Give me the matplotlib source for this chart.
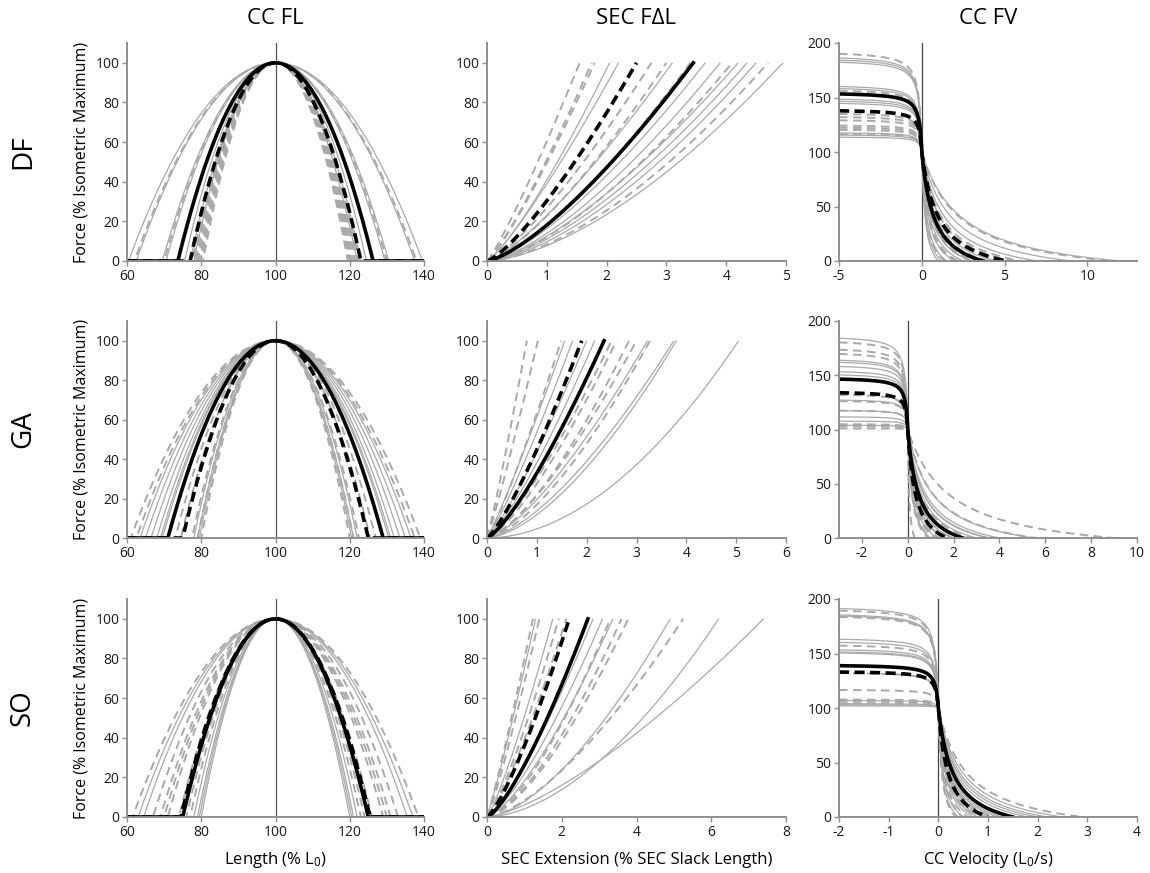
import numpy as np
import matplotlib
matplotlib.use("Agg")
import matplotlib.pyplot as plt

plt.rcParams['font.family'] = ['Open Sans', 'DejaVu Sans']
plt.rcParams['mathtext.fontset'] = 'custom'
plt.rcParams['mathtext.rm'] = 'Open Sans'
plt.rcParams['mathtext.default'] = 'regular'
plt.rcParams['axes.unicode_minus'] = False

muscles = ["DF", "GA", "SO"]
col_titles = ["CC FL", "SEC F\u0394L", "CC FV"]

# ---- CC force-length: half-width (% L0) where force reaches zero ----
fl_solid = {
    "DF": [39.6, 37.5, 30.5, 29.5, 24.5, 23.0, 22.0],
    "GA": [36.5, 35.0, 33.5, 32.0, 31.0, 30.5, 22.0, 21.0, 20.5],
    "SO": [37.0, 35.5, 22.0, 21.0, 20.5, 20.0],
}
fl_dashed = {
    "DF": [38.0, 30.0, 22.5, 22.0, 21.5, 21.0, 20.5, 20.3, 20.0, 19.5],
    "GA": [39.0, 37.5, 27.0, 25.5, 22.5, 21.0, 20.0],
    "SO": [38.5, 33.0, 31.0, 30.0, 29.0, 26.0, 24.0, 23.0],
}
fl_mean_solid = {"DF": 26.3, "GA": 29.0, "SO": 25.0}
fl_mean_dashed = {"DF": 23.0, "GA": 25.0, "SO": 25.5}

# ---- SEC force-extension: extension at 100 % force and curve exponent ----
sec_solid_ext = {
    "DF": [2.2, 2.05, 3.1, 3.65, 3.9, 4.35, 4.5, 4.95, 4.2],
    "GA": [1.56, 1.72, 2.0, 2.16, 3.22, 3.75, 3.8, 5.05],
    "SO": [1.3, 1.76, 2.84, 3.09, 3.37, 4.9, 6.2, 7.4],
}
sec_solid_pow = {
    "DF": [1.2, 1.25, 1.3, 1.4, 1.45, 1.5, 1.55, 1.6, 1.45],
    "GA": [1.1, 1.15, 1.2, 1.25, 1.4, 1.5, 1.6, 1.9],
    "SO": [1.1, 1.2, 1.3, 1.35, 1.4, 1.6, 1.75, 1.4],
}
sec_dashed_ext = {
    "DF": [1.55, 1.8, 1.75, 2.75, 3.0, 3.4, 4.1, 4.7],
    "GA": [0.8, 1.02, 1.49, 2.5, 2.6, 2.85, 3.0, 3.27],
    "SO": [1.23, 1.4, 1.92, 2.12, 3.3, 3.6, 3.78, 5.25],
}
sec_dashed_pow = {
    "DF": [1.15, 1.2, 1.2, 1.3, 1.35, 1.4, 1.5, 1.6],
    "GA": [1.1, 1.1, 1.15, 1.3, 1.35, 1.45, 1.4, 1.5],
    "SO": [1.1, 1.15, 1.25, 1.25, 1.5, 1.5, 1.5, 1.5],
}
sec_mean_solid = {"DF": (3.45, 1.38), "GA": (2.35, 1.3), "SO": (2.7, 1.35)}
sec_mean_dashed = {"DF": (2.5, 1.3), "GA": (1.9, 1.25), "SO": (2.2, 1.3)}

# ---- CC force-velocity: eccentric plateau (%) and max shortening velocity (L0/s) ----
fv_solid_ecc = {
    "DF": [189, 187, 185, 162, 160, 150, 148, 146, 118, 116, 114],
    "GA": [187, 166, 164, 160, 155, 152, 128, 118, 112, 108, 104],
    "SO": [194, 188, 187, 165, 162, 155, 153, 152, 107, 104, 103, 102],
}
fv_solid_vmax = {
    "DF": [1.0, 1.5, 3.0, 12.0, 2.0, 7.0, 4.5, 2.5, 9.0, 3.5, 1.2],
    "GA": [1.0, 1.6, 2.0, 2.4, 3.0, 3.5, 4.0, 5.5, 3.6, 1.3, 1.7],
    "SO": [0.5, 1.0, 0.8, 1.8, 2.0, 0.7, 1.3, 2.5, 0.4, 1.2, 0.9, 2.2],
}
fv_dashed_ecc = {
    "DF": [193, 158, 136, 133, 130, 125, 123, 121, 117],
    "GA": [183, 176, 172, 133, 127, 118, 105, 103, 101],
    "SO": [192, 186, 159, 133, 117, 108, 106, 104],
}
fv_dashed_vmax = {
    "DF": [1.4, 2.2, 4.0, 3.0, 5.5, 2.0, 11.5, 3.2, 6.0],
    "GA": [0.3, 0.9, 1.4, 9.0, 5.6, 2.8, 1.2, 2.0, 1.0],
    "SO": [0.35, 0.6, 0.9, 1.1, 2.9, 0.8, 1.5, 0.5],
}
fv_mean_solid = {"DF": (155, 3.7), "GA": (148, 2.4), "SO": (140, 1.5)}
fv_mean_dashed = {"DF": (139, 5.1), "GA": (135, 1.7), "SO": (134, 1.0)}
fv_xlim = {"DF": (-5, 13), "GA": (-3, 10), "SO": (-2, 4)}
fv_xticks = {"DF": [-5, 0, 5, 10], "GA": [-2, 0, 2, 4, 6, 8, 10], "SO": [-2, -1, 0, 1, 2, 3, 4]}
fv_ecc_scale = {"DF": 0.16, "GA": 0.1, "SO": 0.06}
sec_xlim = {"DF": 5, "GA": 6, "SO": 8}

GRAY = "#a9a9a9"
SPINE = "#8e8e8e"
style_gs = dict(color=GRAY, lw=0.9, solid_capstyle="butt")
style_gd = dict(color=GRAY, lw=1.4, dashes=(4.4, 2.8))
style_ks = dict(color="black", lw=2.6)
style_kd = dict(color="black", lw=2.6, dashes=(2.8, 1.5))


def fl_curve(x, w):
    return 100 * np.clip(1 - ((x - 100) / w) ** 2, 0, None)


def sec_curve(e, p):
    x = np.linspace(0, e, 200)
    return x, 100 * (x / e) ** p


def fv_curve(fecc, vmax, xmin, c, A=0.2):
    ve = np.linspace(xmin, 0, 300)
    fe = fecc - (fecc - 100) * c / (c - ve)
    vc = np.linspace(0, vmax, 300)
    vn = vc / vmax
    fc = 100 * (1 - vn) / (1 + vn / A)
    return np.concatenate([ve, vc]), np.concatenate([fe, fc])


def style_axes(ax):
    for s in ["top", "right"]:
        ax.spines[s].set_visible(False)
    for s in ["left", "bottom"]:
        ax.spines[s].set_color(SPINE)
        ax.spines[s].set_linewidth(1.4)
    ax.tick_params(axis="both", colors=SPINE, labelcolor="#1a1a1a",
                   labelsize=10, length=3.5, width=1.0, pad=2)


W, H = 1150, 873
fig = plt.figure(figsize=(W / 100, H / 100), dpi=100)

col_left = [127, 487, 839]
col_w = [297, 299, 298]
row_top = [43, 321, 599]
row_bot = [261, 538, 817]

for r, m in enumerate(muscles):
    axs = []
    for c in range(3):
        ax = fig.add_axes([col_left[c] / W, 1 - row_bot[r] / H,
                           col_w[c] / W, (row_bot[r] - row_top[r]) / H])
        style_axes(ax)
        axs.append(ax)

    # force-length
    ax = axs[0]
    x = np.linspace(60, 140, 801)
    ax.axvline(100, color="#555555", lw=0.9, zorder=1)
    for w in fl_solid[m]:
        ax.plot(x, fl_curve(x, w), **style_gs)
    for w in fl_dashed[m]:
        ax.plot(x, fl_curve(x, w), **style_gd)
    ax.plot(x, fl_curve(x, fl_mean_dashed[m]), **style_kd)
    ax.plot(x, fl_curve(x, fl_mean_solid[m]), **style_ks)
    ax.set_xlim(60, 140)
    ax.set_ylim(0, 110)
    ax.set_xticks([60, 80, 100, 120, 140])
    ax.set_yticks([0, 20, 40, 60, 80, 100])
    ax.set_ylabel("Force (% Isometric Maximum)", fontsize=11.5, labelpad=4)

    # SEC force-extension
    ax = axs[1]
    for e, p in zip(sec_solid_ext[m], sec_solid_pow[m]):
        ax.plot(*sec_curve(e, p), **style_gs)
    for e, p in zip(sec_dashed_ext[m], sec_dashed_pow[m]):
        ax.plot(*sec_curve(e, p), **style_gd)
    ax.plot(*sec_curve(*sec_mean_dashed[m]), **style_kd)
    ax.plot(*sec_curve(*sec_mean_solid[m]), **style_ks)
    ax.set_xlim(0, sec_xlim[m])
    ax.set_ylim(0, 110)
    ax.set_xticks(range(0, sec_xlim[m] + 1, 1 if sec_xlim[m] <= 6 else 2))
    ax.set_yticks([0, 20, 40, 60, 80, 100])

    # force-velocity
    ax = axs[2]
    xmin, xmax = fv_xlim[m]
    cc = fv_ecc_scale[m]
    ax.axvline(0, color="#444444", lw=0.9, zorder=1)
    for fe, vm in zip(fv_solid_ecc[m], fv_solid_vmax[m]):
        ax.plot(*fv_curve(fe, vm, xmin, cc), **style_gs)
    for fe, vm in zip(fv_dashed_ecc[m], fv_dashed_vmax[m]):
        ax.plot(*fv_curve(fe, vm, xmin, cc), **style_gd)
    ax.plot(*fv_curve(*fv_mean_dashed[m], xmin, cc), **style_kd)
    ax.plot(*fv_curve(*fv_mean_solid[m], xmin, cc), **style_ks)
    ax.set_xlim(xmin, xmax)
    ax.set_ylim(0, 200)
    ax.set_xticks(fv_xticks[m])
    ax.set_yticks([0, 50, 100, 150, 200])

    yc = 1 - (row_top[r] + row_bot[r]) / 2 / H
    fig.text(23 / W, yc, m, rotation=90, ha="center", va="center", fontsize=20)

for c, t in enumerate(col_titles):
    fig.text((col_left[c] + col_w[c] / 2) / W, 1 - 19 / H, t,
             ha="center", va="center", fontsize=16)

xlabels = ["Length (% L$_0$)", "SEC Extension (% SEC Slack Length)",
           "CC Velocity (L$_0$/s)"]
for c, t in enumerate(xlabels):
    fig.text((col_left[c] + col_w[c] / 2) / W, 1 - 860 / H, t,
             ha="center", va="center", fontsize=12)

fig.savefig("out.png", dpi=100)
